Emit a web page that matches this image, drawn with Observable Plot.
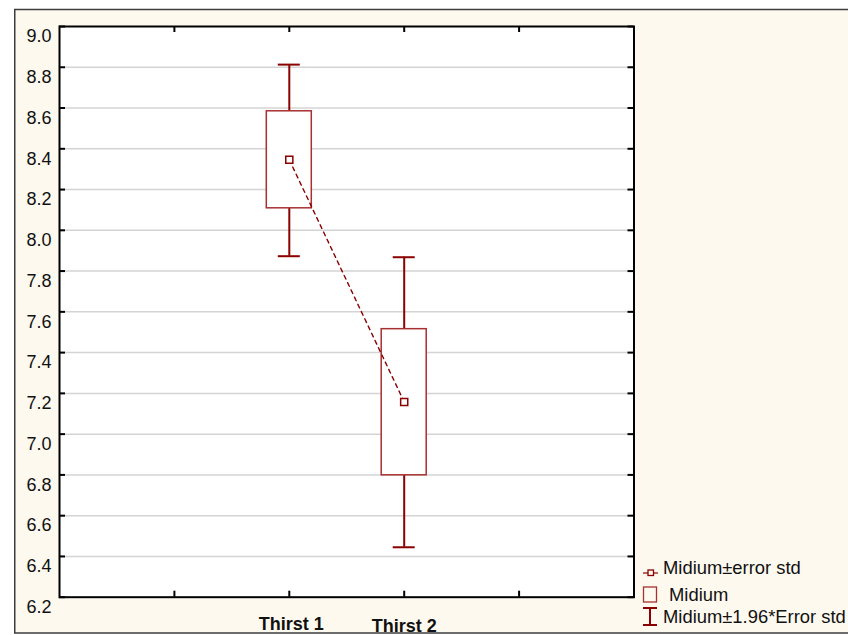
<!DOCTYPE html>
<html>
<head>
<meta charset="utf-8">
<script src="https://cdn.jsdelivr.net/npm/d3@7"></script>
<script src="https://cdn.jsdelivr.net/npm/@observablehq/plot@0.6"></script>
<style>
  html, body { margin: 0; padding: 0; background: #ffffff; }
  #chart { position: absolute; left: 0; top: 0; }
</style>
</head>
<body>
<div id="chart"></div>
<script>
// ---- data ----
const categories = ["Thirst 1", "Thirst 2"];
const positions = [2, 3];
const means = [8.346, 7.158];
const boxLow = [8.108, 6.798];
const boxHigh = [8.584, 7.515];
const whiskerLow = [7.873, 6.445];
const whiskerHigh = [8.813, 7.868];
const yTicks = [6.2, 6.4, 6.6, 6.8, 7.0, 7.2, 7.4, 7.6, 7.8, 8.0, 8.2, 8.4, 8.6, 8.8, 9.0];
const xTicks = [1, 2, 3, 4];
const legendLabels = ["Midium±error std", "Midium", "Midium±1.96*Error std"];

const data = categories.map((c, i) => ({
  cat: c, pos: positions[i], mean: means[i],
  lo: boxLow[i], hi: boxHigh[i], wlo: whiskerLow[i], whi: whiskerHigh[i]
}));

const W = 848, H = 635;
const mL = 59, mR = 214.5, mT = 26, mB = 38.3;
const plotW = W - mL - mR, plotH = H - mT - mB;
const dark = "#8b0000";
const boxCol = "#a83030";
const font = "'Liberation Sans', Arial, sans-serif";

const chart = Plot.plot({
  width: W, height: H,
  marginLeft: mL, marginRight: mR, marginTop: mT, marginBottom: mB,
  x: { domain: [0, 5], axis: null },
  y: { domain: [6.2, 9.0], axis: null },
  style: { background: "transparent", fontFamily: font },
  marks: [
    Plot.frame({ fill: "white" }),
    Plot.ruleY(yTicks.slice(1, -1), { y: d => d, stroke: "#d4d4d4", strokeWidth: 1.5 }),
    // inward ticks
    Plot.ruleY(yTicks, { y: d => d, stroke: "black", strokeWidth: 2, insetRight: plotW - 6 }),
    Plot.ruleY(yTicks, { y: d => d, stroke: "black", strokeWidth: 2, insetLeft: plotW - 6 }),
    Plot.ruleX(xTicks, { x: d => d, stroke: "black", strokeWidth: 2, insetBottom: plotH - 6 }),
    Plot.ruleX(xTicks, { x: d => d, stroke: "black", strokeWidth: 2, insetTop: plotH - 6 }),
    // y tick labels
    Plot.text(yTicks, {
      y: d => d, text: d => d.toFixed(1), frameAnchor: "left", lineAnchor: "middle",
      textAnchor: "end", dx: -8, dy: 10, fontSize: 18, fill: "#111"
    }),
    // category labels
    Plot.text([data[0]], {
      x: "pos", text: "cat", frameAnchor: "bottom", lineAnchor: "middle", dy: 27.5, dx: 2,
      fontSize: 18, fontWeight: "bold", fill: "#111"
    }),
    Plot.text([data[1]], {
      x: "pos", text: "cat", frameAnchor: "bottom", lineAnchor: "middle", dy: 29.5,
      fontSize: 18, fontWeight: "bold", fill: "#111"
    }),
    // whiskers
    Plot.ruleX(data, { x: "pos", y1: "wlo", y2: "whi", stroke: dark, strokeWidth: 2 }),
    Plot.ruleY(data, { x1: "pos", x2: "pos", y: "wlo", stroke: dark, strokeWidth: 2, insetLeft: -11, insetRight: -11 }),
    Plot.ruleY(data, { x1: "pos", x2: "pos", y: "whi", stroke: dark, strokeWidth: 2, insetLeft: -11, insetRight: -11 }),
    // boxes
    Plot.rect(data, {
      x1: "pos", x2: "pos", y1: "lo", y2: "hi",
      insetLeft: -22.5, insetRight: -22.5,
      fill: "white", stroke: boxCol, strokeWidth: 1.5
    }),
    // connecting dashed line
    Plot.line(data, { x: "pos", y: "mean", stroke: dark, strokeWidth: 1.4, strokeDasharray: "4,4" }),
    // means
    Plot.dot(data, { x: "pos", y: "mean", symbol: "square", r: 4, stroke: dark, fill: "white", strokeWidth: 1.5 }),
    Plot.frame({ stroke: "black", strokeWidth: 2 })
  ]
});

const svg = d3.select(chart);
// outer panel
svg.insert("rect", ":first-child")
  .attr("x", 14.75).attr("y", 9.5)
  .attr("width", 860).attr("height", 623.5)
  .attr("fill", "#fdf9ee").attr("stroke", "#3c3c3c").attr("stroke-width", 1.5);

// legend
const lg = svg.append("g").attr("font-family", font).attr("font-size", 18.4)
  .attr("fill", "#111").attr("text-anchor", "start");
// item 1: line with small square
lg.append("line").attr("x1", 643).attr("x2", 658).attr("y1", 573).attr("y2", 573)
  .attr("stroke", dark).attr("stroke-width", 1.2);
lg.append("rect").attr("x", 648).attr("y", 570).attr("width", 5.5).attr("height", 5.5)
  .attr("fill", "#fdf9ee").attr("stroke", dark).attr("stroke-width", 1.3);
lg.append("text").attr("x", 663).attr("y", 568).attr("dy", "0.35em").text(legendLabels[0]);
// item 2: box
lg.append("rect").attr("x", 643.5).attr("y", 587).attr("width", 13).attr("height", 15)
  .attr("fill", "none").attr("stroke", boxCol).attr("stroke-width", 1.3);
lg.append("text").attr("x", 669).attr("y", 595).attr("dy", "0.35em").text(legendLabels[1]);
// item 3: I-beam
lg.append("line").attr("x1", 650).attr("x2", 650).attr("y1", 608).attr("y2", 625)
  .attr("stroke", dark).attr("stroke-width", 2);
lg.append("line").attr("x1", 643).attr("x2", 657).attr("y1", 608).attr("y2", 608)
  .attr("stroke", dark).attr("stroke-width", 2);
lg.append("line").attr("x1", 643).attr("x2", 657).attr("y1", 625).attr("y2", 625)
  .attr("stroke", dark).attr("stroke-width", 2);
lg.append("text").attr("x", 663).attr("y", 617).attr("dy", "0.35em").text(legendLabels[2]);

document.getElementById("chart").appendChild(chart);
</script>
</body>
</html>
